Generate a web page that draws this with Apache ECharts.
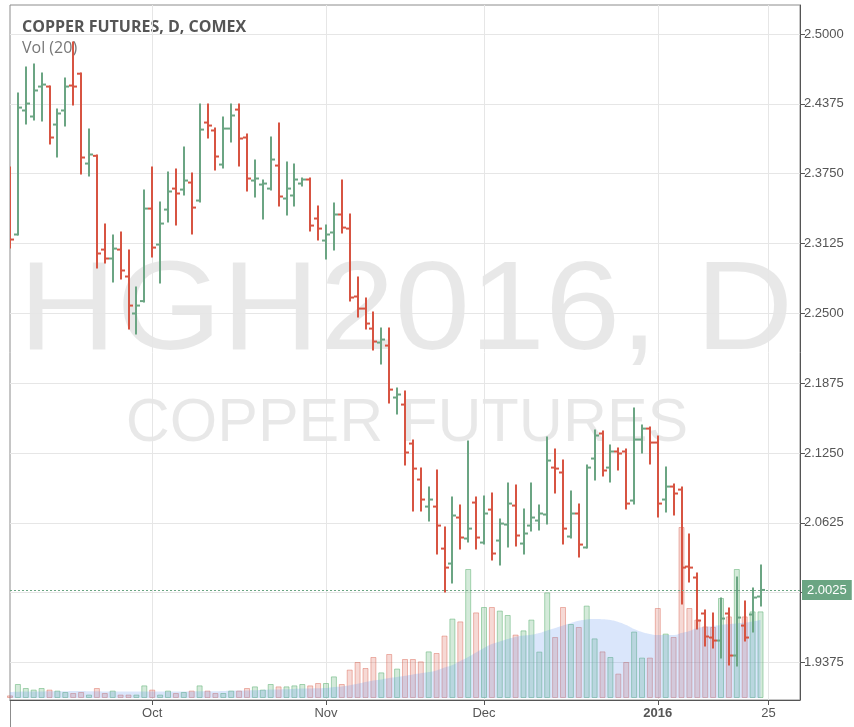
<!DOCTYPE html>
<html>
<head>
<meta charset="utf-8">
<title>Copper Futures, D, COMEX</title>
<script src="https://cdn.jsdelivr.net/npm/echarts@6/dist/echarts.min.js"></script>
<style>
  html, body { margin: 0; padding: 0; background: #fff; }
  #chart { width: 854px; height: 727px; }
</style>
</head>
<body>
<div id="chart"></div>
<script>
// trading days, HGH2016 daily (last 5 are empty slots on the right)
const dates = [
  'Sep 4', 'Sep 8', 'Sep 9', 'Sep 10', 'Sep 11', 'Sep 14', 'Sep 15', 'Sep 16', 'Sep 17', 'Sep 18',
  'Sep 21', 'Sep 22', 'Sep 23', 'Sep 24', 'Sep 25', 'Sep 28', 'Sep 29', 'Sep 30',
  'Oct 1', 'Oct 2', 'Oct 5', 'Oct 6', 'Oct 7', 'Oct 8', 'Oct 9', 'Oct 12', 'Oct 13', 'Oct 14',
  'Oct 15', 'Oct 16', 'Oct 19', 'Oct 20', 'Oct 21', 'Oct 22', 'Oct 23', 'Oct 26', 'Oct 27', 'Oct 28',
  'Oct 29', 'Oct 30',
  'Nov 2', 'Nov 3', 'Nov 4', 'Nov 5', 'Nov 6', 'Nov 9', 'Nov 10', 'Nov 11', 'Nov 12', 'Nov 13',
  'Nov 16', 'Nov 17', 'Nov 18', 'Nov 19', 'Nov 20', 'Nov 23', 'Nov 24', 'Nov 25', 'Nov 27', 'Nov 30',
  'Dec 1', 'Dec 2', 'Dec 3', 'Dec 4', 'Dec 7', 'Dec 8', 'Dec 9', 'Dec 10', 'Dec 11', 'Dec 14',
  'Dec 15', 'Dec 16', 'Dec 17', 'Dec 18', 'Dec 21', 'Dec 22', 'Dec 23', 'Dec 24', 'Dec 28', 'Dec 29',
  'Dec 30', 'Dec 31',
  'Jan 4', 'Jan 5', 'Jan 6', 'Jan 7', 'Jan 8', 'Jan 11', 'Jan 12', 'Jan 13', 'Jan 14', 'Jan 15',
  'Jan 19', 'Jan 20', 'Jan 21', 'Jan 22', 'Jan 25', 'Jan 26', 'Jan 27', 'Jan 28', 'Jan 29'
]

const opens = [
  2.3761, 2.3206, 2.4316, 2.4262, 2.4530, 2.4530, 2.4190, 2.4316, 2.4539, 2.4645,
  2.3841, 2.3910, 2.3071, 2.2991, 2.3071, 2.2830, 2.2499, 2.2610, 2.3438, 2.3116,
  2.3429, 2.3617, 2.3608, 2.3671, 2.3510, 2.4208, 2.4137, 2.3832, 2.4154, 2.4324,
  2.4074, 2.3689, 2.3653, 2.3617, 2.3823, 2.3528, 2.3555, 2.3662, 2.3698, 2.3349,
  2.3152, 2.3224, 2.3385, 2.3259, 2.2651, 2.2543, 2.2364, 2.2239, 2.2212, 2.1747,
  2.1684, 2.1335, 2.1013, 2.0771, 2.0771, 2.0395, 2.0261, 2.0673, 2.0485, 2.0807,
  2.0449, 2.0744, 2.0467, 2.0610, 2.0780, 2.0440, 2.0601, 2.0646, 2.0700, 2.1120,
  2.1076, 2.0503, 2.0709, 2.0405, 2.1201, 2.1425, 2.1120, 2.1264, 2.1264, 2.0825,
  2.1371, 2.1469, 2.1344, 2.0834, 2.0950, 2.0923, 2.0234, 2.0136, 1.9814, 1.9599,
  1.9572, 1.9814, 1.9438, 1.9706, 1.9805, 1.9966
]
const highs = [
  2.3805, 2.4468, 2.4700, 2.4727, 2.4647, 2.4530, 2.4324, 2.4602, 2.4924, 2.4647,
  2.4145, 2.3913, 2.3295, 2.3197, 2.3224, 2.3063, 2.2731, 2.3600, 2.3805, 2.3492,
  2.3761, 2.3787, 2.3984, 2.3752, 2.4369, 2.4369, 2.4154, 2.4253, 2.4369, 2.4369,
  2.4101, 2.3868, 2.3689, 2.4074, 2.4199, 2.3850, 2.3832, 2.3707, 2.3707, 2.3456,
  2.3286, 2.3483, 2.3689, 2.3385, 2.2821, 2.2633, 2.2508, 2.2364, 2.2364, 2.1827,
  2.1801, 2.1362, 2.1111, 2.0941, 2.1094, 2.0583, 2.0852, 2.0780, 2.1353, 2.0852,
  2.0861, 2.0888, 2.0655, 2.0977, 2.0959, 2.0744, 2.0977, 2.0780, 2.1389, 2.1281,
  2.1183, 2.0906, 2.0789, 2.1138, 2.1452, 2.1443, 2.1317, 2.1290, 2.1281, 2.1648,
  2.1496, 2.1478, 2.1398, 2.1120, 2.0968, 2.0941, 2.0521, 2.0172, 1.9841, 1.9814,
  1.9948, 1.9858, 2.0136, 1.9921, 2.0037, 2.0243
]
const lows = [
  2.3089, 2.3206, 2.4199, 2.4235, 2.4226, 2.4020, 2.3904, 2.4181, 2.4369, 2.3752,
  2.3734, 2.2910, 2.2955, 2.2785, 2.2812, 2.2364, 2.2320, 2.2606, 2.3009, 2.2776,
  2.3322, 2.3295, 2.3564, 2.3215, 2.3501, 2.4074, 2.3787, 2.3805, 2.4038, 2.3823,
  2.3600, 2.3546, 2.3349, 2.3608, 2.3465, 2.3385, 2.3465, 2.3644, 2.3242, 2.3161,
  2.2991, 2.3071, 2.3224, 2.2615, 2.2472, 2.2364, 2.2176, 2.2051, 2.1702, 2.1604,
  2.1147, 2.0736, 2.0736, 2.0646, 2.0351, 2.0011, 2.0091, 2.0395, 2.0458, 2.0395,
  2.0440, 2.0297, 2.0252, 2.0413, 2.0422, 2.0351, 2.0557, 2.0565, 2.0619, 2.0897,
  2.0440, 2.0494, 2.0324, 2.0404, 2.1013, 2.1049, 2.0995, 2.1102, 2.0753, 2.0798,
  2.1255, 2.1156, 2.0682, 2.0727, 2.0700, 1.9903, 2.0100, 1.9679, 1.9527, 1.9509,
  1.9420, 1.9357, 1.9348, 1.9572, 1.9653, 1.9885
]
const closes = [
  2.3161, 2.4342, 2.4378, 2.4495, 2.4548, 2.4074, 2.4289, 2.4530, 2.4530, 2.3895,
  2.3922, 2.3036, 2.2991, 2.3080, 2.2884, 2.2570, 2.2570, 2.3438, 2.3089, 2.3304,
  2.3591, 2.3573, 2.3689, 2.3447, 2.4145, 2.4181, 2.3904, 2.4154, 2.4271, 2.4065,
  2.3707, 2.3707, 2.3662, 2.3877, 2.3546, 2.3617, 2.3698, 2.3698, 2.3286, 2.3259,
  2.3206, 2.3385, 2.3268, 2.2642, 2.2543, 2.2409, 2.2248, 2.2266, 2.1818, 2.1774,
  2.1255, 2.1111, 2.0834, 2.0834, 2.0601, 2.0225, 2.0691, 2.0494, 2.0574, 2.0494,
  2.0709, 2.0351, 2.0619, 2.0798, 2.0512, 2.0530, 2.0673, 2.0709, 2.1183, 2.1111,
  2.0574, 2.0709, 2.0431, 2.1120, 2.1407, 2.1094, 2.1264, 2.1246, 2.0798, 2.1371,
  2.1469, 2.1344, 2.0798, 2.0950, 2.0888, 2.0225, 2.0225, 1.9751, 1.9608, 1.9572,
  1.9769, 1.9438, 1.9778, 1.9599, 1.9957, 2.0025
]

const volumes = [
  1300, 7000, 5000, 4200, 5000, 4200, 3700, 3000, 2500, 3000,
  1700, 5000, 2500, 3700, 1700, 1700, 1700, 6300, 4200, 1700,
  3700, 2500, 3000, 3700, 6300, 3700, 2500, 2500, 3700, 3700,
  5000, 5800, 4200, 7000, 5800, 5800, 6300, 7000, 6300, 7500,
  7500, 10800, 7000, 14200, 18000, 15000, 20500, 12800, 22000, 14700,
  19500, 19500, 18300, 23300, 22500, 31200, 39700, 38300, 64500, 42800,
  45500, 45500, 43700, 41500, 31700, 33800, 39200, 23200, 52800, 30500,
  45500, 37000, 35500, 46200, 29800, 23300, 20500, 12200, 18000, 33200,
  20200, 20200, 45000, 32200, 30500, 85500, 45000, 39200, 35800, 35500,
  50000, 40800, 64500, 40800, 43300, 43300
]
// Vol (20) moving average as drawn
const volumeMA = [
  3000, 3100, 3200, 3300, 3300, 3400, 3400, 3400, 3500, 3500,
  3400, 3400, 3300, 3300, 3300, 3200, 3200, 3300, 3300, 3200,
  3200, 3200, 3300, 3300, 3400, 3400, 3400, 3500, 3600, 3700,
  3800, 3900, 4000, 4200, 4300, 4400, 4500, 4700, 4800, 4900,
  5000, 5500, 5800, 6400, 7100, 8000, 8800, 9300, 10000, 10500,
  11100, 11800, 12400, 13000, 13800, 15200, 16500, 18500, 20500, 22800,
  25000, 27000, 28300, 29500, 30500, 31200, 31600, 32500, 33800, 35000,
  36300, 37500, 38600, 39300, 39500, 39400, 39000, 38000, 36500, 34500,
  33000, 32000, 31500, 31500, 31500, 32500, 33500, 35000, 35500, 36000,
  36500, 37000, 37300, 37700, 38300, 39000
]

const lastPrice = 2.0025
const priceTicks = [1.9375, 2.0, 2.0625, 2.125, 2.1875, 2.25, 2.3125, 2.375, 2.4375, 2.5]
const priceLabels = [1.9375, 2.0625, 2.125, 2.1875, 2.25, 2.3125, 2.375, 2.4375, 2.5]
const dateLabels = { 'Oct 1': 'Oct', 'Nov 2': 'Nov', 'Dec 1': 'Dec', 'Jan 4': '2016', 'Jan 25': '25' }

const UP = '#6ba583'
const DOWN = '#d75442'

const ohlcData = opens.map((o, i) => [i, o, closes[i], lows[i], highs[i]])
const volumeData = volumes.map((v, i) => {
  const up = closes[i] >= opens[i]
  return {
    value: v,
    itemStyle: {
      color: up ? 'rgba(120,190,140,0.32)' : 'rgba(215,84,66,0.22)',
      borderColor: up ? 'rgba(100,180,120,0.55)' : 'rgba(215,84,66,0.4)',
      borderWidth: 1
    }
  }
})

const isLabelled = (index, value) => dateLabels[value] !== undefined

function renderOHLC (params, api) {
  const i = api.value(0)
  const open = api.coord([i, api.value(1)])
  const close = api.coord([i, api.value(2)])
  const low = api.coord([i, api.value(3)])
  const high = api.coord([i, api.value(4)])
  const color = api.value(2) >= api.value(1) ? UP : DOWN
  const x = Math.round(high[0])
  const style = { stroke: color, lineWidth: 2 }
  return {
    type: 'group',
    children: [
      { type: 'line', shape: { x1: x, y1: high[1] - 1, x2: x, y2: low[1] + 1 }, style },
      { type: 'line', shape: { x1: x - 4, y1: open[1], x2: x, y2: open[1] }, style },
      { type: 'line', shape: { x1: x, y1: close[1], x2: x + 4, y2: close[1] }, style }
    ]
  }
}

const chart = echarts.init(document.getElementById('chart'), null, { renderer: 'canvas' })

const option = {
  animation: false,
  backgroundColor: '#fff',
  grid: [
    { left: 10, right: 54, top: 5, bottom: 27, show: true, borderColor: '#8c8c8c', borderWidth: 1 },
    { left: 10, right: 54, bottom: 29, height: 200 }
  ],
  xAxis: [
    {
      type: 'category',
      gridIndex: 0,
      data: dates,
      boundaryGap: false,
      axisLine: { lineStyle: { color: '#555', width: 1 } },
      axisTick: { interval: isLabelled, length: 5, lineStyle: { color: '#555' } },
      axisLabel: {
        interval: isLabelled,
        color: '#555',
        fontSize: 13,
        fontFamily: 'Liberation Sans',
        margin: 7,
        formatter: v => v === 'Jan 4' ? '{b|2016}' : dateLabels[v],
        rich: { b: { fontWeight: 'bold', color: '#555', fontSize: 13, fontFamily: 'Liberation Sans' } }
      },
      splitLine: { show: true, interval: isLabelled, lineStyle: { color: '#e6e6e6' } }
    },
    { type: 'category', gridIndex: 1, data: dates, boundaryGap: false, show: false }
  ],
  yAxis: [
    {
      type: 'value',
      gridIndex: 0,
      position: 'right',
      min: 1.904,
      max: 2.526,
      axisLine: { show: true, lineStyle: { color: '#555' } },
      axisTick: { show: true, customValues: priceTicks, length: 5, lineStyle: { color: '#555' } },
      axisLabel: {
        customValues: priceLabels,
        formatter: v => v.toFixed(4),
        color: '#555',
        fontSize: 13,
        fontFamily: 'Liberation Sans',
        margin: 4
      },
      splitLine: { show: true, lineStyle: { color: '#e6e6e6' } }
    },
    { type: 'value', gridIndex: 1, min: 0, max: 100000, show: false, splitLine: { show: false } }
  ],
  graphic: [
    {
      type: 'text',
      x: 406,
      y: 314,
      scaleX: 1.065,
      z: -10,
      silent: true,
      style: {
        text: 'HGH2016, D',
        font: '127px "Liberation Sans"',
        fill: 'rgba(0,0,0,0.09)',
        align: 'center',
        verticalAlign: 'middle',
        textAlign: 'center',
        textVerticalAlign: 'middle'
      }
    },
    {
      type: 'text',
      x: 407,
      y: 424,
      z: -10,
      silent: true,
      style: {
        text: 'COPPER FUTURES',
        font: '61px "Liberation Sans"',
        fill: 'rgba(0,0,0,0.09)',
        align: 'center',
        verticalAlign: 'middle',
        textAlign: 'center',
        textVerticalAlign: 'middle'
      }
    },
    {
      type: 'text',
      left: 22,
      top: 19,
      style: { text: 'COPPER FUTURES, D, COMEX', font: 'bold 16px "Open Sans"', fill: '#555' }
    },
    {
      type: 'text',
      left: 22,
      top: 40,
      style: { text: 'Vol (20)', font: '16px "Open Sans"', fill: '#777' }
    },
    {
      type: 'line',
      silent: true,
      shape: { x1: 10.5, y1: 700, x2: 10.5, y2: 727 },
      style: { stroke: '#8c8c8c', lineWidth: 1 }
    }
  ],
  series: [
    {
      name: 'Volume',
      type: 'bar',
      xAxisIndex: 1,
      yAxisIndex: 1,
      barWidth: 6,
      data: volumeData,
      z: 1
    },
    {
      name: 'Vol MA 20',
      type: 'line',
      xAxisIndex: 1,
      yAxisIndex: 1,
      data: volumeMA,
      symbol: 'none',
      smooth: true,
      lineStyle: { width: 0, color: 'rgba(0,0,0,0)' },
      areaStyle: { color: 'rgba(100,150,240,0.34)' },
      z: 2
    },
    {
      name: 'HGH2016',
      type: 'custom',
      xAxisIndex: 0,
      yAxisIndex: 0,
      clip: true,
      renderItem: renderOHLC,
      encode: { x: 0, y: [1, 2, 3, 4] },
      data: ohlcData,
      z: 3,
      markLine: {
        silent: true,
        symbol: 'none',
        precision: 4,
        animation: false,
        lineStyle: { color: UP, type: [2, 2], width: 1 },
        label: {
          show: true,
          position: 'end',
          distance: 2,
          formatter: () => lastPrice.toFixed(4),
          color: '#fff',
          backgroundColor: UP,
          padding: [4, 5, 3, 5],
          fontSize: 13,
          fontFamily: 'Liberation Sans'
        },
        data: [{ yAxis: lastPrice }]
      }
    }
  ]
}

chart.setOption(option)
</script>
</body>
</html>
